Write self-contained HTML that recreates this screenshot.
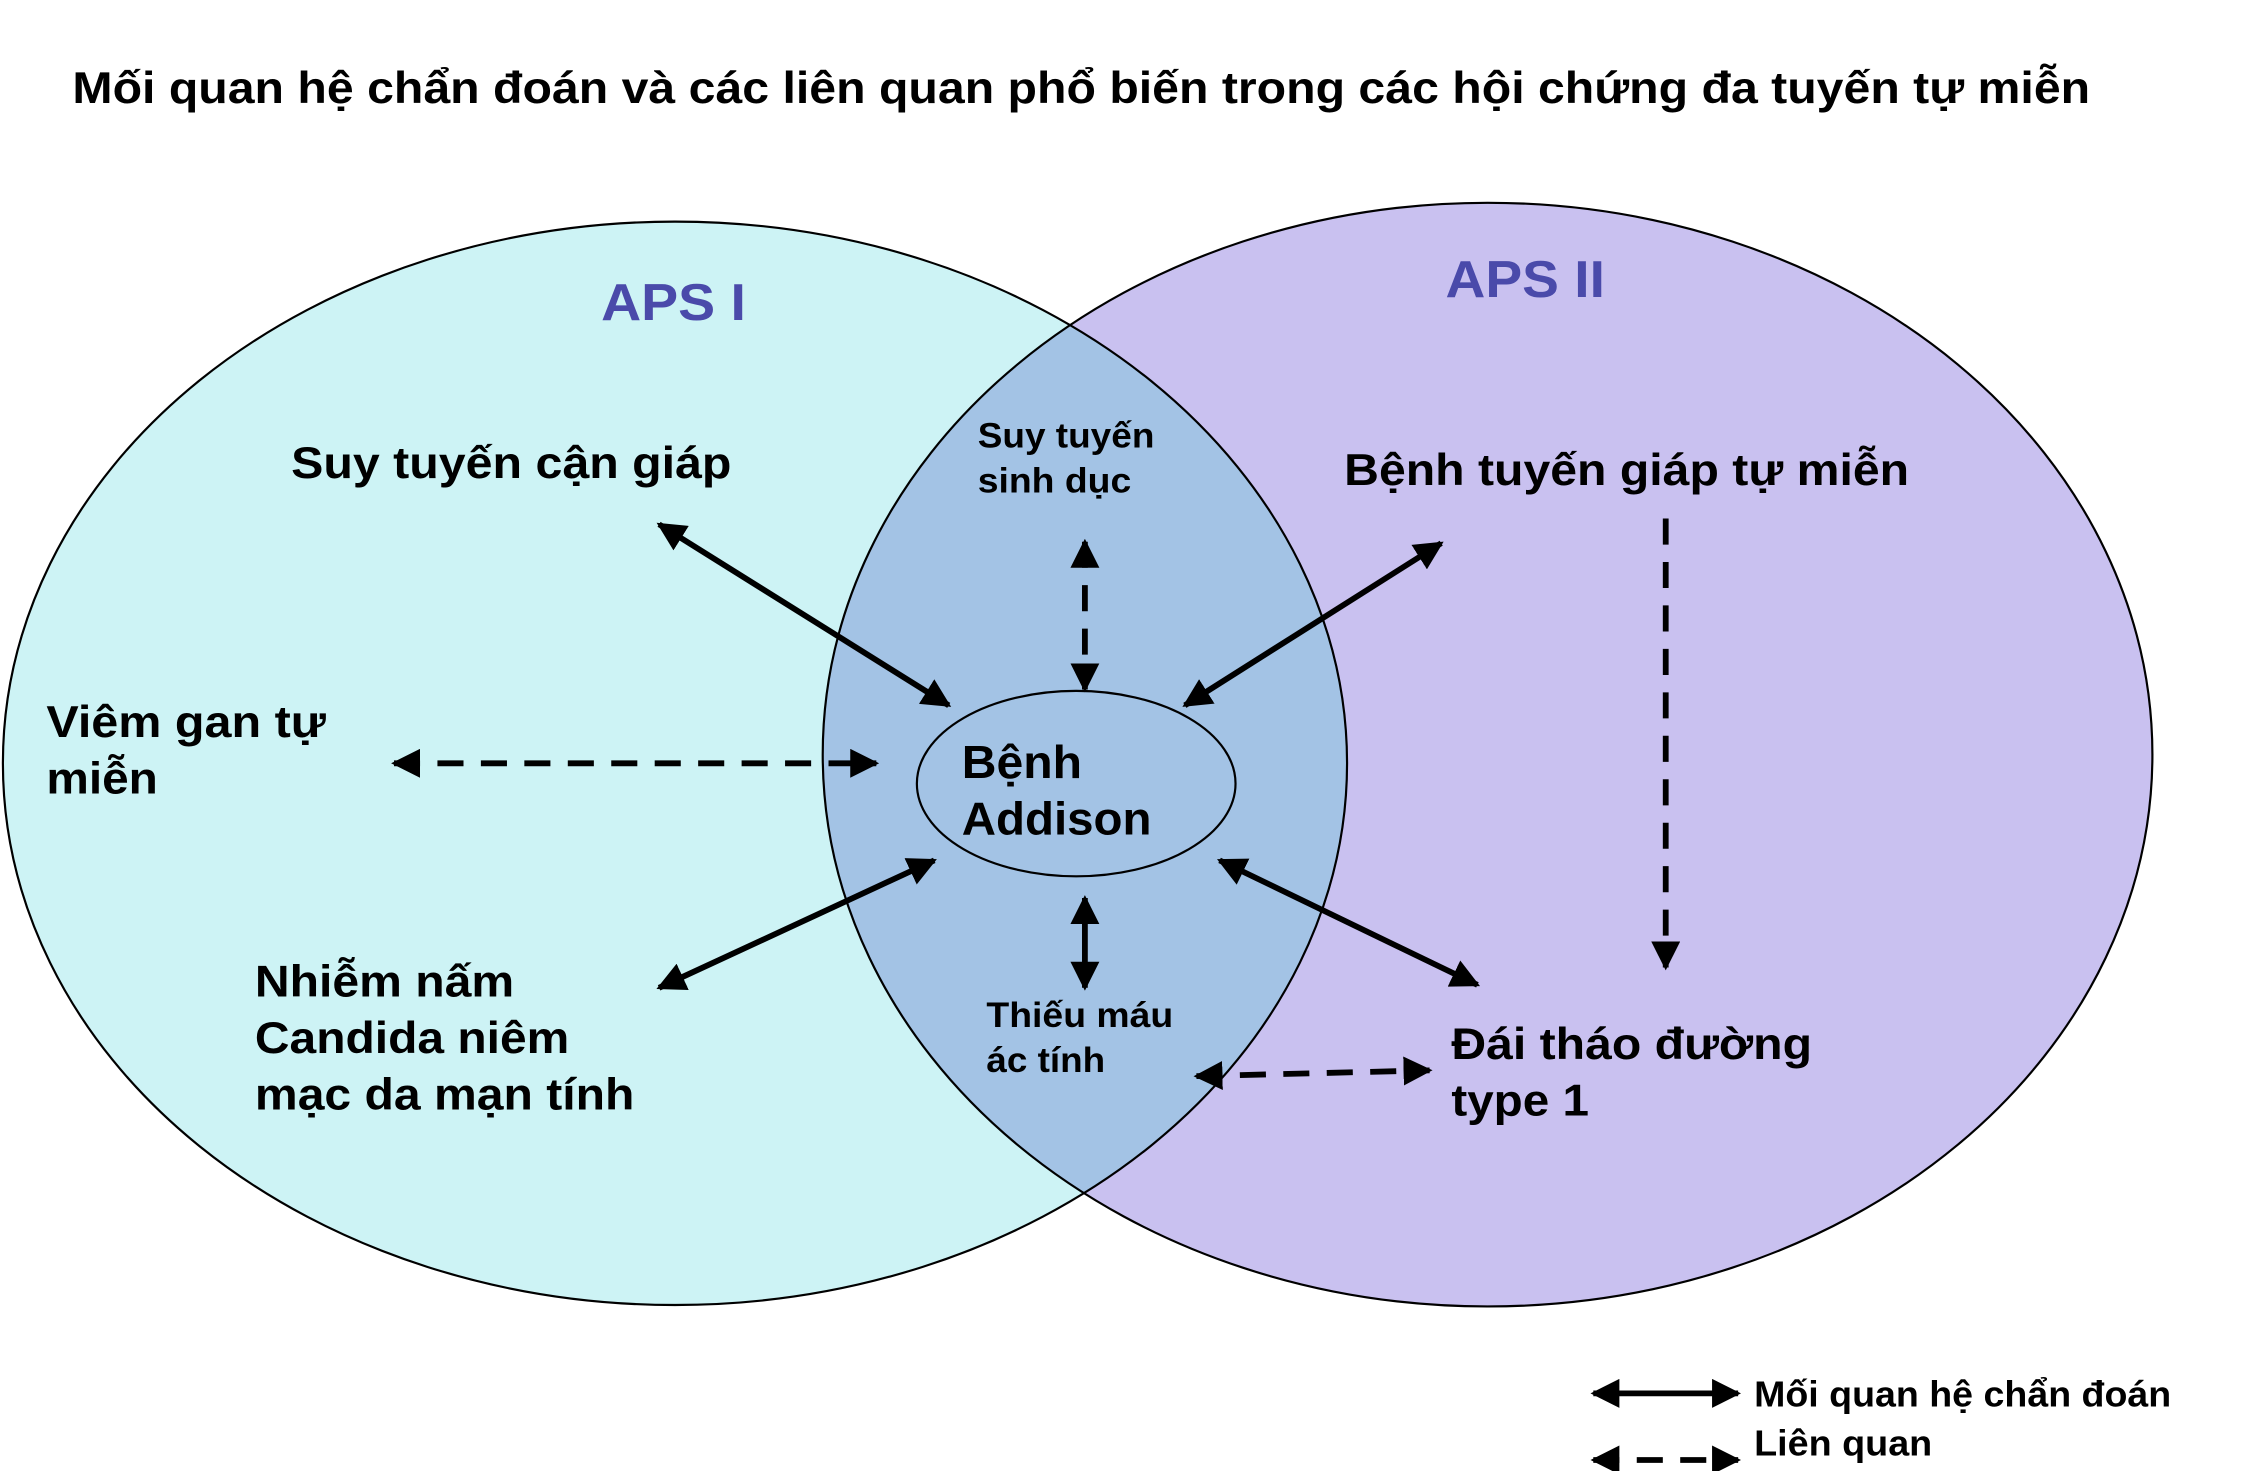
<!DOCTYPE html>
<html><head><meta charset="utf-8"><style>
html,body{margin:0;padding:0;background:#fff;}
svg{display:block;}
text{font-family:"Liberation Sans",sans-serif;font-weight:bold;fill:#000;}
</style></head><body>
<svg width="2248" height="1471" viewBox="0 0 1552 1015.6" preserveAspectRatio="none" xmlns="http://www.w3.org/2000/svg">
<defs>
<marker id="ah" viewBox="0 0 10 10" refX="9" refY="5" markerWidth="5" markerHeight="5" orient="auto-start-reverse">
<path d="M0,0 L10,5 L0,10 z" fill="#000"/></marker>
<clipPath id="cl"><ellipse cx="466" cy="527" rx="464" ry="374"/></clipPath>
</defs>
<rect width="1552" height="1016" fill="#fff"/>
<text x="50" y="71" font-size="31" textLength="1393" lengthAdjust="spacingAndGlyphs">Mối quan hệ chẩn đoán và các liên quan phổ biến trong các hội chứng đa tuyến tự miễn</text>
<ellipse cx="466" cy="527" rx="464" ry="374" fill="#cdf3f5"/>
<ellipse cx="1027" cy="521" rx="459" ry="381" fill="#c9c1f0"/>
<ellipse cx="1027" cy="521" rx="459" ry="381" fill="#a3c3e5" clip-path="url(#cl)"/>
<ellipse cx="466" cy="527" rx="464" ry="374" fill="none" stroke="#000" stroke-width="1.5"/>
<ellipse cx="1027" cy="521" rx="459" ry="381" fill="none" stroke="#000" stroke-width="1.5"/>
<ellipse cx="743" cy="541" rx="110" ry="64" fill="none" stroke="#000" stroke-width="1.5"/>
<text x="415" y="221" font-size="36" textLength="100" lengthAdjust="spacingAndGlyphs" style="fill:#4a4aaa">APS I</text>
<text x="998" y="205" font-size="36" textLength="110" lengthAdjust="spacingAndGlyphs" style="fill:#4a4aaa">APS II</text>
<text x="201" y="330" font-size="31" textLength="304" lengthAdjust="spacingAndGlyphs">Suy tuyến cận giáp</text>
<text x="675" y="309" font-size="24" textLength="122" lengthAdjust="spacingAndGlyphs">Suy tuyến</text>
<text x="675" y="340" font-size="24" textLength="106" lengthAdjust="spacingAndGlyphs">sinh dục</text>
<text x="928" y="335" font-size="31" textLength="390" lengthAdjust="spacingAndGlyphs">Bệnh tuyến giáp tự miễn</text>
<text x="32" y="509" font-size="31" textLength="193" lengthAdjust="spacingAndGlyphs">Viêm gan tự</text>
<text x="32" y="548" font-size="31" textLength="77" lengthAdjust="spacingAndGlyphs">miễn</text>
<text x="664" y="537" font-size="32" textLength="83" lengthAdjust="spacingAndGlyphs">Bệnh</text>
<text x="664" y="576" font-size="32" textLength="131" lengthAdjust="spacingAndGlyphs">Addison</text>
<text x="176" y="688" font-size="31" textLength="179" lengthAdjust="spacingAndGlyphs">Nhiễm nấm</text>
<text x="176" y="727" font-size="31" textLength="217" lengthAdjust="spacingAndGlyphs">Candida niêm</text>
<text x="176" y="766" font-size="31" textLength="262" lengthAdjust="spacingAndGlyphs">mạc da mạn tính</text>
<text x="681" y="709" font-size="24" textLength="129" lengthAdjust="spacingAndGlyphs">Thiếu máu</text>
<text x="681" y="740" font-size="24" textLength="82" lengthAdjust="spacingAndGlyphs">ác tính</text>
<text x="1002" y="731" font-size="31" textLength="249" lengthAdjust="spacingAndGlyphs">Đái tháo đường</text>
<text x="1002" y="770" font-size="31" textLength="95" lengthAdjust="spacingAndGlyphs">type 1</text>
<g stroke="#000" stroke-width="4" fill="none">
<line x1="455" y1="362" x2="655" y2="487" marker-start="url(#ah)" marker-end="url(#ah)"/>
<line x1="995" y1="375" x2="818" y2="487" marker-start="url(#ah)" marker-end="url(#ah)"/>
<line x1="455" y1="682" x2="645" y2="594" marker-start="url(#ah)" marker-end="url(#ah)"/>
<line x1="842" y1="594" x2="1020" y2="680" marker-start="url(#ah)" marker-end="url(#ah)"/>
<line x1="749" y1="620" x2="749" y2="682" marker-start="url(#ah)" marker-end="url(#ah)"/>
<line x1="1100" y1="962" x2="1200" y2="962" marker-start="url(#ah)" marker-end="url(#ah)"/>
</g>
<g stroke="#000" stroke-width="4" fill="none" stroke-dasharray="18,12">
<line x1="272" y1="527" x2="605" y2="527" marker-start="url(#ah)" marker-end="url(#ah)"/>
<line x1="749" y1="374" x2="749" y2="476" marker-start="url(#ah)" marker-end="url(#ah)"/>
<line x1="1150" y1="358" x2="1150" y2="668" marker-end="url(#ah)"/>
<line x1="826" y1="743" x2="987" y2="739" marker-start="url(#ah)" marker-end="url(#ah)"/>
<line x1="1100" y1="1008" x2="1200" y2="1008" marker-start="url(#ah)" marker-end="url(#ah)"/>
</g>
<text x="1211" y="971" font-size="25" textLength="288" lengthAdjust="spacingAndGlyphs">Mối quan hệ chẩn đoán</text>
<text x="1211" y="1005" font-size="25" textLength="123" lengthAdjust="spacingAndGlyphs">Liên quan</text>
</svg>
</body></html>
